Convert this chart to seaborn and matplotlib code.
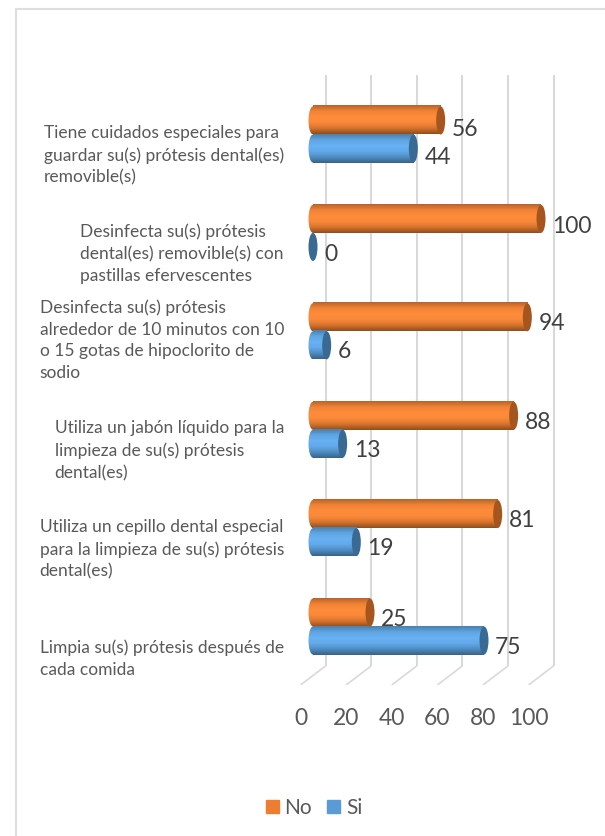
import numpy as np
import pandas as pd
import seaborn as sns
import matplotlib.pyplot as plt
from matplotlib.colors import LinearSegmentedColormap
from matplotlib.lines import Line2D
from matplotlib.patches import Ellipse, Rectangle
from matplotlib.transforms import ScaledTranslation

categorias = [
    'Tiene cuidados especiales para\nguardar su(s) prótesis dental(es)\nremovible(s)',
    'Desinfecta su(s) prótesis\ndental(es) removible(s) con\npastillas efervescentes',
    'Desinfecta su(s) prótesis\nalrededor de 10 minutos con 10\no 15 gotas de hipoclorito de\nsodio',
    'Utiliza un jabón líquido para la\nlimpieza de su(s) prótesis\ndental(es)',
    'Utiliza un cepillo dental especial\npara la limpieza de su(s) prótesis\ndental(es)',
    'Limpia su(s) prótesis después de\ncada comida',
]
valores_no = [56, 100, 94, 88, 81, 25]
valores_si = [44, 0, 6, 13, 19, 75]
ticks_x = [0, 20, 40, 60, 80, 100]

W, H = 605, 836
sns.set_theme(style='white')
plt.rcParams['font.family'] = ['Lato', 'DejaVu Sans']

df = pd.DataFrame({
    'categoria': categorias * 2,
    'valor': valores_no + valores_si,
    'serie': ['No'] * 6 + ['Si'] * 6,
})

# eixos em pixels da imagem: x=0 em 313, 2.28 px por unidade
esc_x = 2.28
esc_y = 98.4
origem_y = 134.5
topo, base = 75, 685
fig = plt.figure(figsize=(W / 100, H / 100), dpi=100)
esq = 90
dir_ = 600
ax = fig.add_axes([esq / W, 1 - base / H, (dir_ - esq) / W, (base - topo) / H])

sns.barplot(df, y='categoria', x='valor', hue='serie', order=categorias, width=0.57,
            palette={'No': '#ED7D31', 'Si': '#5B9BD5'}, saturation=1, ax=ax, zorder=3, legend=False)

xlim = ((esq - 313) / esc_x, (dir_ - 313) / esc_x)
ylim = ((base - origem_y) / esc_y, (topo - origem_y) / esc_y)

# grade 3D: parede de fundo e linha diagonal no piso
prof = 12.5 / esc_x
piso = (666 - origem_y) / esc_y
for t in ticks_x:
    ax.plot([t + prof, t + prof], [ylim[1], piso], color='#D9D9D9', lw=1.5, zorder=1, solid_capstyle='butt')
    ax.plot([t + prof, t - prof], [piso, ylim[0]], color='#D9D9D9', lw=1.2, zorder=1, solid_capstyle='butt')

# efeito de cilindro em cima das barras do seaborn
cores = {
    0: (['#B8642A', '#F08236', '#FF8C3A', '#FA893A', '#D8742C', '#8F4E1E'], '#A5561F'),
    1: (['#4A80AE', '#5FA5E2', '#67B0F2', '#62AAEA', '#4F8CC2', '#3A6288'], '#386A94'),
}
larg_cap = 9 / esc_x
grad = np.linspace(0, 1, 64)[:, None]
ajuste_rot = [2, 1, 0, 0, 0, 0]
for n, cont in enumerate(ax.containers):
    cmap = LinearSegmentedColormap.from_list('cil', cores[n][0])
    for b in cont:
        v = b.get_width()
        y0, alt = b.get_y(), b.get_height()
        cy = y0 + alt / 2
        b.set_visible(False)
        if v > 0:
            ax.imshow(grad, cmap=cmap, aspect='auto', extent=(0, v, y0 + alt, y0), origin='upper', zorder=3)
            el = Ellipse((0, cy), larg_cap, alt, transform=ax.transData)
            im = ax.imshow(grad, cmap=cmap, aspect='auto', extent=(-larg_cap, larg_cap, y0 + alt, y0),
                           origin='upper', zorder=3)
            im.set_clip_path(el)
        ax.add_patch(Ellipse((v, cy), larg_cap, alt, fc=cores[n][1], ec='none', zorder=4))
    rot = ax.bar_label(cont, labels=[str(int(b.get_width())) for b in cont], padding=11 * 0.72,
                       fontsize=16.5, color='#404040', zorder=5)
    for r, aj in zip(rot, ajuste_rot):
        r.xyann = (11 * 0.72, -4.8 - aj * 0.72)

ax.set_xlim(xlim)
ax.set_ylim(ylim)

# ticks x ficam no plano da frente
ax.set_xticks([t - prof for t in ticks_x], [str(t) for t in ticks_x], fontsize=16.5, color='#595959')
ax.tick_params(axis='x', length=0, pad=16.5)
ax.tick_params(axis='y', length=0, pad=0)
ax.set_xlabel('')
ax.set_ylabel('')
ax.spines[:].set_visible(False)
ax.patch.set_alpha(0)

# rotulos de categoria, alinhados a esquerda e deslocados um a um
desloc = [16.5, 16.5, 4.5, 16.5, 17, 27.5]
for lab, d in zip(ax.get_yticklabels(), desloc):
    lab.set_fontsize(12.5)
    lab.set_color('#595959')
    lab.set_multialignment('left')
    lab.set_linespacing(1.45)
    lab.set_transform(lab.get_transform() + ScaledTranslation((284 - esq) / 100, -d / 100, fig.dpi_scale_trans))

# legenda
handles = [Rectangle((0, 0), 1, 1, color='#ED7D31'), Rectangle((0, 0), 1, 1, color='#5B9BD5')]
fig.legend(handles, ['No', 'Si'], ncol=2, frameon=False, loc='center', bbox_to_anchor=(314 / W, 1 - 808 / H),
           handlelength=0.62, handleheight=0.62, handletextpad=0.29, columnspacing=0.72,
           fontsize=15, labelcolor='#595959')

# moldura so em cima e a esquerda, o resto fica fora do recorte
borda = dict(color='#DEDEDE', lw=1.5, transform=fig.transFigure)
fig.add_artist(Line2D([15.5 / W, 15.5 / W], [0, 1 - 8.5 / H], **borda))
fig.add_artist(Line2D([15.5 / W, 1], [1 - 8.5 / H, 1 - 8.5 / H], **borda))

fig.savefig('out.png', dpi=100)
